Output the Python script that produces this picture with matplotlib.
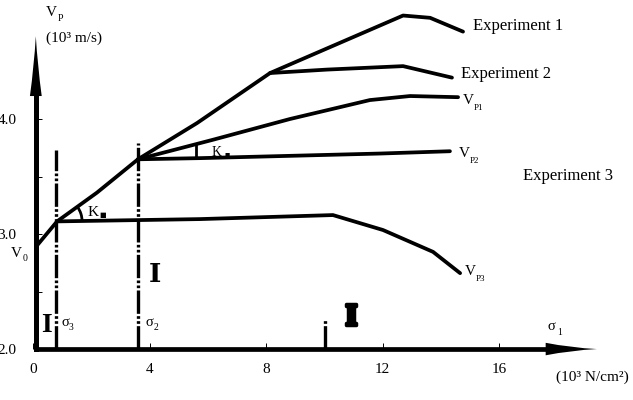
import numpy as np
import matplotlib
matplotlib.use('Agg')
import matplotlib.pyplot as plt
from matplotlib.patches import Arc
import matplotlib.patheffects as pe

# Values (x: 10^3 N/cm2, y: 10^3 m/s)
exp1_x = [0.12, 0.81, 2.18, 3.59, 5.62, 8.13, 12.70, 13.63, 14.76]
exp1_y = [2.90, 3.11, 3.36, 3.65, 3.965, 4.40, 4.90, 4.88, 4.76]

exp2_x = [8.13, 10.09, 12.70, 14.38]
exp2_y = [4.40, 4.43, 4.46, 4.36]

vp1_x = [3.59, 6.17, 8.81, 11.56, 12.94, 14.59]
vp1_y = [3.65, 3.82, 4.00, 4.165, 4.20, 4.19]

vp2_x = [3.59, 5.72, 11.91, 14.31]
vp2_y = [3.65, 3.66, 3.70, 3.72]

vp3_x = [0.81, 5.72, 10.29, 12.01, 13.73, 14.66]
vp3_y = [3.11, 3.13, 3.165, 3.035, 2.845, 2.66]

sigma_x = [0.77, 3.59, 10.02]
sigma_top = [3.73, 3.79, 2.26]

x_ticks = [0, 4, 8, 12, 16]
x_ticklabels = ['0', '4', '8', '12', '16']
y_ticks = [2.0, 2.5, 3.0, 3.5, 4.0]
y_ticklabels = ['2.0', '', '3.0', '', '4.0']

plt.rcParams['font.family'] = ['Liberation Serif', 'DejaVu Sans']

fig = plt.figure(figsize=(6.33, 4.0), dpi=100)
ax = fig.add_axes([0, 0, 1, 1])
ax.set_xlim(-1.151, 20.601)
ax.set_ylim(1.557, 5.035)

# axes drawn as thick lines through the origin
for s in ['top', 'right']:
    ax.spines[s].set_visible(False)
ax.spines['left'].set_position(('data', 0.08))
ax.spines['bottom'].set_position(('data', 2))
ax.spines['left'].set_bounds(2, 4.35)
ax.spines['bottom'].set_bounds(0.08, 17.9)
ax.spines['left'].set_linewidth(3.6)
ax.spines['bottom'].set_linewidth(3.4)

ax.set_xticks(x_ticks)
ax.set_xticklabels(x_ticklabels)
ax.set_yticks(y_ticks)
ax.set_yticklabels(y_ticklabels)
ax.tick_params(direction='in', length=4.3, width=0.7, labelsize=11)
ax.tick_params(axis='x', pad=10)
ax.tick_params(axis='y', pad=14)

# arrow heads
ax.annotate('', xy=(19.36, 2), xytext=(17.6, 2),
            arrowprops=dict(arrowstyle='wedge,tail_width=1.0,shrink_factor=0.35',
                            fc='k', ec='k', lw=0, shrinkA=0, shrinkB=0, mutation_scale=9))
ax.annotate('', xy=(0.08, 4.72), xytext=(0.08, 4.20),
            arrowprops=dict(arrowstyle='wedge,tail_width=1.0,shrink_factor=0.4',
                            fc='k', ec='k', lw=0, shrinkA=0, shrinkB=0, mutation_scale=8.5))

# curves
lw = 2.7
for cx, cy in [(exp1_x, exp1_y), (exp2_x, exp2_y), (vp1_x, vp1_y),
               (vp2_x, vp2_y), (vp3_x, vp3_y)]:
    ax.plot(cx, cy, color='k', lw=lw, solid_joinstyle='round', solid_capstyle='round')

# vertical stress markers
for sx, st in zip(sigma_x, sigma_top):
    ax.plot([sx, sx], [2, st], color='k', lw=2.4,
            linestyle=(0, (7, 0.7, 0.8, 0.7, 0.8, 0.7)))

# angle marks
ang = np.degrees(np.arctan2(exp1_y[2] - exp1_y[1], exp1_x[2] - exp1_x[1]))
ax.add_patch(Arc((exp1_x[1], vp3_y[0]), width=1.72, height=0.435,
                 theta1=0, theta2=ang, lw=2.0, color='k'))
kx = 5.59
ax.plot([kx, kx], [np.interp(kx, vp2_x, vp2_y), np.interp(kx, vp1_x, vp1_y)],
        color='k', lw=2.0)

ax.text(1.84, 3.19, 'K', fontsize=11, ha='left', va='center')
ax.text(2.25, 3.165, '■', fontsize=5, ha='left', va='center', family='DejaVu Sans')
ax.text(6.13, 3.713, 'K', fontsize=10, ha='left', va='center')
ax.text(6.58, 3.687, '■', fontsize=4, ha='left', va='center', family='DejaVu Sans')


def sublabel(x, y, main, sub, xs, ys, size=11, subsize=7):
    ax.text(x, y, main, fontsize=size, ha='left', va='center')
    ax.text(xs, ys, sub, fontsize=subsize, ha='left', va='center')


sublabel(0.42, 4.93, 'V', 'P', 0.82, 4.877)
ax.text(0.42, 4.704, '(10³ m/s)', fontsize=11, ha='left', va='center')
sublabel(-0.78, 2.835, 'V', '0', -0.38, 2.79)
sublabel(0.95, 2.235, 'σ', '3', 1.22, 2.19, size=10.5)
sublabel(3.84, 2.235, 'σ', '2', 4.12, 2.19, size=10.5)
sublabel(17.68, 2.20, 'σ', '1', 18.0, 2.148, size=10.5)
ax.text(17.95, 1.757, '(10³ N/cm²)', fontsize=11, ha='left', va='center')

ax.text(15.10, 4.809, 'Experiment 1', fontsize=12, ha='left', va='center')
ax.text(14.69, 4.391, 'Experiment 2', fontsize=12, ha='left', va='center')
ax.text(16.82, 3.504, 'Experiment 3', fontsize=12, ha='left', va='center')
sublabel(14.76, 4.165, 'V', 'P1', 15.12, 4.096, subsize=6.5)
sublabel(14.62, 3.704, 'V', 'P2', 14.98, 3.635, subsize=6.5)
sublabel(14.83, 2.67, 'V', 'P3', 15.19, 2.609, subsize=6.5)

# zone marks
ax.text(0.43, 2.205, 'I', fontsize=20, fontweight='bold', ha='center', va='center')
ax.text(4.18, 2.652, 'I', fontsize=19, fontweight='bold', ha='center', va='center',
        family='DejaVu Serif')
ax.text(10.91, 2.278, 'I', fontsize=20, fontweight='bold', ha='center', va='center',
        family='DejaVu Serif',
        path_effects=[pe.withStroke(linewidth=2.5, foreground='k')])

fig.savefig('out.png', dpi=100)
